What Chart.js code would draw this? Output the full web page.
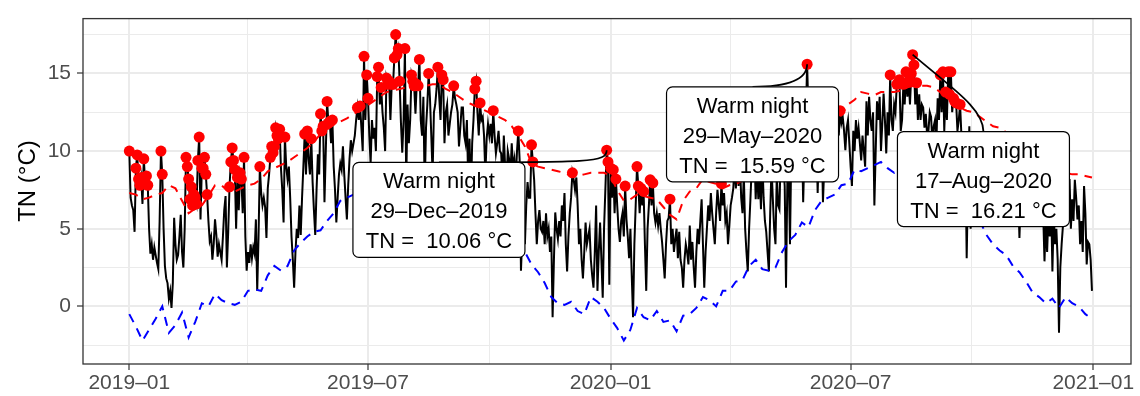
<!DOCTYPE html>
<html>
<head>
<meta charset="utf-8">
<title>TN warm nights</title>
<script src="https://cdn.jsdelivr.net/npm/chart.js@4.4.1/dist/chart.umd.min.js"></script>
<style>
  html, body { margin: 0; padding: 0; background: #ffffff; }
  #wrap { width: 1140px; height: 396px; }
</style>
</head>
<body>
<div id="wrap"><canvas id="tnChart" width="1140" height="396"></canvas></div>
<script>
// daily minimum temperature TN (°C), one value per day starting 2019-01-01
const tn2019 = [
  10.0, 7.0, 6.5, 6.2, 4.8, 8.9, 9.75, 8.2, 7.8, 8.3, 6.6, 9.5, 8.0, 8.4, 7.8, 5.0, 3.4, 4.0, 3.0, 3.8, 3.3, 2.8, 2.4, 5.5, 10.0, 8.5, 5.0, 2.6, 1.8, 1.5, 0.5, // jan
  1.0, -0.1, 1.5, 5.7, 4.0, 3.0, 3.3, 4.5, 5.9, 3.5, 2.5, 5.0, 9.6, 9.0, 8.2, 6.9, 7.7, 6.5, 7.2, 7.0, 6.6, 9.4, 10.9, 5.6, 8.9, 8.9, 9.6, 8.5, // feb
  7.2, 5.5, 4.2, 4.5, 3.0, 4.0, 5.6, 4.6, 3.2, 4.0, 3.5, 3.0, 4.5, 6.2, 7.1, 2.5, 4.8, 7.7, 9.3, 10.2, 9.4, 8.8, 5.0, 8.3, 6.2, 8.6, 8.2, 6.0, 9.6, 4.5, 2.3, // mar
  3.5, 2.8, 4.0, 3.1, 3.8, 3.4, 5.6, 1.0, 4.5, 9.0, 7.3, 6.5, 7.0, 6.4, 4.4, 7.6, 8.5, 9.6, 10.3, 9.9, 10.3, 11.5, 11.0, 10.8, 11.4, 8.9, 7.5, 5.4, 10.9, 9.0, // apr
  8.2, 9.0, 7.0, 4.5, 3.0, 1.2, 3.5, 5.0, 4.4, 6.5, 4.6, 7.0, 9.0, 11.1, 8.5, 11.3, 9.5, 8.5, 10.8, 8.0, 6.2, 4.6, 7.5, 9.8, 8.5, 12.4, 11.3, 11.6, 6.7, 10.0, 13.2, // may
  11.8, 11.9, 10.5, 12.0, 9.0, 7.5, 5.4, 7.0, 8.5, 9.2, 8.8, 10.3, 8.5, 7.0, 5.6, 7.8, 9.5, 10.7, 10.0, 10.5, 11.0, 12.0, 12.8, 12.0, 12.9, 11.5, 10.0, 16.1, 12.0, 14.9, // jun
  13.4, 11.0, 9.2, 12.0, 10.8, 11.5, 10.0, 14.8, 15.4, 13.0, 14.1, 12.5, 11.5, 10.0, 14.7, 14.3, 14.5, 12.0, 14.3, 14.3, 16.0, 17.5, 16.2, 16.6, 14.5, 11.8, 9.9, 12.0, 16.6, 8.0, 13.0, // jul
  10.5, 12.0, 14.9, 14.5, 14.2, 12.4, 14.3, 14.2, 15.9, 12.0, 11.0, 13.5, 7.5, 11.5, 13.0, 15.0, 13.4, 11.0, 8.5, 12.5, 13.0, 14.0, 15.4, 13.5, 12.0, 14.9, 14.6, 10.5, 12.5, 13.0, 11.0, // aug
  11.75, 12.5, 13.0, 14.2, 13.4, 13.0, 12.5, 10.3, 11.5, 12.8, 12.8, 11.0, 10.5, 12.0, 8.0, 10.8, 7.0, 10.5, 12.0, 14.0, 14.5, 12.5, 11.0, 13.1, 12.0, 12.2, 11.0, 8.5, 10.8, 11.75, // sep
  11.0, 11.75, 10.5, 12.6, 11.0, 9.85, 10.5, 11.3, 10.0, 9.85, 8.0, 11.0, 9.0, 8.0, 10.0, 9.5, 8.5, 10.5, 9.0, 9.5, 8.0, 10.0, 11.3, 9.4, 2.3, 4.5, 5.2, 4.0, 6.5, 8.0, 7.0, // oct
  7.0, 10.4, 9.3, 8.15, 6.0, 4.0, 5.5, 6.2, 5.0, 4.8, 5.5, 4.0, 6.0, 4.5, 5.0, 3.5, 4.5, -0.7, 3.0, 6.05, 5.0, 4.35, 5.5, 4.5, 6.5, 5.5, 7.3, 4.0, 2.25, 4.5, // nov
  6.0, 7.0, 8.6, 8.15, 7.5, 8.3, 6.5, 4.0, 5.0, 3.0, 1.8, 3.5, 5.4, 4.0, 4.5, 5.0, 3.0, 2.0, 1.2, 3.5, 6.5, 1.0, 3.5, 5.4, 3.0, 0.55, 5.0, 7.5, 10.06, 9.3, 1.4 // dec
];
const tn2020 = [
  8.9, 7.0, 8.8, 6.0, 8.2, 6.5, 5.0, 4.15, 5.5, 6.0, 4.5, 7.75, 5.6, 4.5, 3.1, 5.0, 2.0, -0.7, 4.0, 6.5, 9.0, 7.75, 6.0, 7.6, 6.5, 7.4, 4.0, 1.0, 5.0, 6.5, 8.15, // jan
  6.5, 7.95, 6.0, 5.4, 6.0, 5.2, 6.0, 5.0, 4.15, 3.0, 1.8, 4.0, 5.5, 5.7, 6.9, 4.0, 5.0, 3.5, 4.35, 5.0, 3.1, 4.8, 3.0, 2.5, 1.2, 3.0, 4.0, 3.5, 2.7, // feb
  5.2, 3.0, 4.15, 2.5, 1.2, 3.5, 5.0, 4.0, 5.5, 6.9, 4.0, 1.2, 3.5, 5.0, 6.5, 5.5, 7.3, 6.0, 5.0, 4.0, 6.0, 7.5, 6.5, 5.5, 7.9, 6.5, 7.3, 5.5, 6.0, 4.0, 5.2, // mar
  6.5, 7.0, 7.6, 9.0, 7.6, 10.0, 7.75, 9.5, 7.0, 6.0, 8.5, 5.0, 3.5, 2.25, 5.0, 6.9, 9.0, 8.0, 10.0, 6.9, 9.0, 6.9, 8.5, 6.25, 9.5, 7.0, 5.5, 4.8, 3.5, 2.25, // apr
  6.0, 9.0, 6.9, 5.0, 4.0, 8.5, 6.5, 6.25, 10.0, 11.0, 9.0, 7.75, 1.2, 8.0, 9.0, 4.0, 10.0, 11.0, 9.5, 12.0, 10.5, 12.5, 11.0, 9.0, 11.5, 6.7, 10.0, 12.0, 15.59, 12.5, 11.0, // may
  13.0, 10.0, 12.0, 9.5, 11.0, 7.3, 10.5, 9.0, 11.5, 6.7, 9.0, 12.0, 10.5, 13.0, 11.5, 10.0, 12.5, 11.0, 9.5, 12.0, 12.0, 11.0, 12.6, 11.8, 12.2, 11.3, 10.06, 11.5, 12.0, 10.5, // jun
  9.0, 7.75, 11.3, 10.0, 12.0, 10.8, 11.5, 10.5, 9.4, 11.0, 10.0, 9.0, 13.2, 11.0, 13.5, 12.0, 11.3, 12.5, 6.5, 10.0, 13.2, 12.0, 13.5, 10.0, 11.75, 13.7, 12.0, 9.85, 12.5, 11.0, 14.9, // jul
  12.0, 11.3, 13.0, 12.5, 14.3, 14.4, 14.6, 11.3, 12.0, 14.3, 13.0, 15.1, 13.5, 14.5, 13.0, 15.0, 16.21, 15.55, 13.0, 14.4, 12.0, 13.65, 12.0, 13.0, 12.8, 11.5, 12.4, 11.0, 11.3, 12.5, 12.2, // aug
  10.5, 11.6, 12.0, 10.5, 13.4, 12.0, 14.9, 12.5, 15.1, 11.3, 13.8, 12.0, 15.1, 13.65, 15.1, 12.5, 13.4, 13.2, 13.1, 11.3, 12.0, 13.0, 11.0, 9.0, 6.5, 10.0, 3.1, 8.0, 11.6, 5.0, // sep
  9.0, 11.0, 8.0, 10.5, 9.5, 7.0, 10.0, 8.5, 11.0, 9.0, 7.5, 10.0, 8.0, 9.5, 6.5, 8.5, 10.5, 9.0, 7.0, 9.5, 8.0, 6.0, 8.5, 10.0, 7.5, 9.0, 6.5, 8.0, 7.0, 9.5, 8.0, // oct
  7.0, 9.0, 6.5, 8.0, 7.5, 4.4, 7.0, 9.5, 8.0, 6.5, 9.0, 7.0, 8.5, 9.0, 7.5, 6.0, 8.0, 9.0, 7.0, 8.5, 6.5, 5.5, 7.0, 6.0, 2.9, 5.5, 3.5, 6.0, 4.5, 7.0, // nov
  2.25, 6.0, 4.0, 5.0, 3.0, -1.7, 2.5, 4.0, 5.2, 7.0, 6.0, 8.4, 7.0, 8.2, 5.0, 6.9, 5.5, 8.15, 7.0, 5.6, 6.5, 4.0, 5.5, 3.5, 7.75, 6.0, 2.7, 4.15, 4.0, 3.0, 1.0 // dec
];

// warm (90th pct) and cold (10th pct) thresholds, one value every 5 days
const thrStep = 5;
const tn90 = [
  7.3, 7.2, 6.9, 7.0, 7.2, 7.3, 7.8, 7.6, 6.8, 6.0,
  6.3, 6.5, 7.1, 7.8, 7.8, 7.4, 7.4, 7.6, 7.8, 7.9,
  8.2, 8.7, 8.9, 9.1, 9.3, 9.6, 9.9, 10.2, 10.6, 11.1,
  11.4, 11.7, 11.9, 12.1, 12.4, 12.6, 12.9, 13.2, 13.5, 13.8,
  13.9, 14.0, 14.1, 14.1, 14.1, 14.2, 14.3, 14.3, 14.0, 13.8,
  13.5, 13.2, 13.0, 12.8, 12.6, 12.4, 12.2, 12.0, 11.6, 11.0,
  10.3, 9.2, 9.0, 8.9, 8.8, 8.7, 8.6, 8.4, 8.4, 8.5,
  8.6, 8.6, 8.6, 8.4, 7.5, 6.8, 6.9, 7.2, 7.1, 7.0,
  6.9, 6.4, 5.9, 5.6, 6.8, 7.4, 7.6, 8.2, 8.0, 7.9,
  7.6, 7.8, 7.9, 8.1, 8.6, 9.0, 9.4, 9.8, 10.2, 10.6,
  11.0, 11.4, 11.7, 11.9, 12.1, 12.3, 12.3, 12.2, 12.3, 13.0,
  13.3, 13.8, 13.7, 13.6, 13.8, 13.8, 13.8, 13.9, 14.1, 14.2,
  14.2, 14.2, 14.1, 13.8, 13.4, 13.0, 12.8, 12.6, 12.5, 12.2,
  11.9, 11.6, 11.5, 11.2, 10.6, 10.1, 9.7, 9.4, 9.1, 8.9,
  8.8, 8.7, 8.6, 8.5, 8.5, 8.4, 8.3
];
const tn10 = [
  -0.5, -1.3, -2.2, -1.5, -0.8, 0.0, -1.7, -1.2, -0.4, -2.0,
  -1.0, 0.2, 0.0, 0.8, 0.4, 0.2, 0.1, 0.3, 1.0, 1.1,
  1.0, 2.0, 2.6, 2.3, 2.6, 3.6, 4.1, 4.5, 4.8, 4.9,
  5.5, 6.0, 6.8, 7.0, 7.2, 7.4, 7.6, 7.9, 8.1, 8.3,
  8.5, 8.7, 8.8, 8.9, 8.9, 9.0, 9.0, 8.9, 8.7, 8.5,
  8.2, 7.8, 7.4, 6.9, 6.4, 5.9, 5.4, 4.8, 4.2, 3.6,
  3.5, 2.7, 2.2, 1.5, 0.6, 0.2, 0.1, 0.3, -0.3, -0.5,
  0.6, 0.3, -0.1, -0.8, -1.4, -2.2, -1.5, -0.1, -0.7, -0.9,
  -0.3, -1.0, -0.9, -1.6, -0.6, -0.5, -0.1, 0.6, 0.4, 0.0,
  1.0, 1.0, 1.6, 1.7, 2.6, 3.0, 2.4, 2.3, 2.5, 3.5,
  4.2, 4.6, 5.4, 5.1, 6.2, 6.8, 7.0, 7.2, 7.8, 7.9,
  8.8, 8.7, 8.9, 9.1, 9.3, 8.9, 8.6, 9.0, 9.2, 9.4,
  9.5, 9.5, 9.3, 9.0, 8.6, 8.0, 7.4, 6.8, 6.2, 5.5,
  4.6, 4.0, 3.6, 3.3, 2.6, 2.2, 1.6, 0.9, 0.6, 0.2,
  0.5, -0.1, 0.6, 0.2, 0.0, -0.5, -0.8
];

// axis ticks (days since 2019-01-01)
const xMajorDays = [0, 181, 365, 547, 731];
const xMinorDays = [90, 273, 456, 639];
const yMajor = [0, 5, 10, 15];
const yMinor = [-2.5, 2.5, 7.5, 12.5, 17.5];

// annotated warm nights and where their labels sit (day, value)
const noteDays = [362, 514, 594];
const noteAtDay = [234.8, 472.6, 647.7];
const noteAtValue = [6.21, 11.08, 8.2];

const startUTC = Date.UTC(2019, 0, 1);
const monthNames = ['Jan', 'Feb', 'Mar', 'Apr', 'May', 'Jun', 'Jul', 'Aug', 'Sep', 'Oct', 'Nov', 'Dec'];
const FONT = "'Liberation Sans', Arial, Helvetica, sans-serif";

const tn = tn2019.concat(tn2020);

function dateOf(d) {
    return new Date(startUTC + d * 86400000);
}

function fmtMonth(d) {
    const dt = dateOf(d);
    return dt.getUTCFullYear() + '–' + String(dt.getUTCMonth() + 1).padStart(2, '0');
}

function fmtDay(d) {
    const dt = dateOf(d);
    return String(dt.getUTCDate()).padStart(2, '0') + '–' + monthNames[dt.getUTCMonth()] + '–' + dt.getUTCFullYear();
}

// threshold at a given day, only used to flag warm nights
function thrAt(arr, d) {
    const k = d / thrStep;
    const i = Math.floor(k);
    if (i >= arr.length - 1) return arr[arr.length - 1];
    const f = k - i;
    return arr[i] * (1 - f) + arr[i + 1] * f;
}

const tnPoints = tn.map((v, i) => ({ x: i, y: v }));
const warmPoints = tnPoints.filter(p => p.y > thrAt(tn90, p.x));
const p90Points = tn90.map((v, i) => ({ x: i * thrStep, y: v }));
const p10Points = tn10.map((v, i) => ({ x: i * thrStep, y: v }));

// curve shape for each connector: control points as fractions of (dx, dy) from the label
const noteBend = [
    [0.9, 0, 1, 0],
    [0.667, 0, 1, 0.333],
    [0, 0.3, 0.44, 0.56]
];

const notesPlugin = {
    id: 'notes',
    afterDatasetsDraw(chart) {
        const { ctx, scales: { x, y } } = chart;
        const boxW = 172, boxH = 95;
        ctx.save();
        ctx.font = '22px ' + FONT;

        noteDays.forEach((d, k) => {
            const px = x.getPixelForValue(d);
            const py = y.getPixelForValue(tn[d]);
            const cx = x.getPixelForValue(noteAtDay[k]);
            const cy = y.getPixelForValue(noteAtValue[k]);
            const top = cy - boxH / 2;
            const left = cx - boxW / 2;

            // connector from label top to the point
            const dx = px - cx, dy = py - top;
            const b = noteBend[k];
            ctx.beginPath();
            ctx.moveTo(cx, top);
            ctx.bezierCurveTo(cx + b[0] * dx, top + b[1] * dy, cx + b[2] * dx, top + b[3] * dy, px, py);
            ctx.strokeStyle = '#000';
            ctx.lineWidth = 1.8;
            ctx.stroke();

            // label box
            const r = 6;
            ctx.beginPath();
            ctx.moveTo(left + r, top);
            ctx.arcTo(left + boxW, top, left + boxW, top + boxH, r);
            ctx.arcTo(left + boxW, top + boxH, left, top + boxH, r);
            ctx.arcTo(left, top + boxH, left, top, r);
            ctx.arcTo(left, top, left + boxW, top, r);
            ctx.closePath();
            ctx.fillStyle = '#fff';
            ctx.fill();
            ctx.lineWidth = 1.2;
            ctx.strokeStyle = '#000';
            ctx.stroke();

            const lines = ['Warm night', fmtDay(d), 'TN =  ' + tn[d].toFixed(2) + ' °C'];
            ctx.fillStyle = '#000';
            ctx.textAlign = 'center';
            ctx.textBaseline = 'alphabetic';
            lines.forEach((t, i) => ctx.fillText(t, cx, top + 26 + i * 30));
        });
        ctx.restore();
    },
    afterDraw(chart) {
        const { ctx, chartArea: a } = chart;
        ctx.save();
        // panel border
        ctx.strokeStyle = '#333333';
        ctx.lineWidth = 1.3;
        ctx.strokeRect(a.left, a.top, a.right - a.left, a.bottom - a.top);
        // y axis title
        ctx.translate(28, 181);
        ctx.rotate(-Math.PI / 2);
        ctx.font = '24px ' + FONT;
        ctx.fillStyle = '#000';
        ctx.textAlign = 'center';
        ctx.textBaseline = 'middle';
        ctx.fillText('TN (°C)', 0, 0);
        ctx.restore();
    }
};

const isMajorX = v => xMajorDays.includes(v);
const isMajorY = v => yMajor.includes(v);

new Chart(document.getElementById('tnChart'), {
    type: 'line',
    data: {
        datasets: [
            {
                label: 'Warm night',
                type: 'scatter',
                data: warmPoints,
                pointRadius: 5.5,
                pointBackgroundColor: '#FF0000',
                pointBorderWidth: 0,
                showLine: false
            },
            {
                label: 'TN90',
                data: p90Points,
                borderColor: '#FF0000',
                borderWidth: 2,
                borderDash: [9, 7],
                pointRadius: 0,
                tension: 0
            },
            {
                label: 'TN10',
                data: p10Points,
                borderColor: '#0000FF',
                borderWidth: 2,
                borderDash: [9, 7],
                pointRadius: 0,
                tension: 0
            },
            {
                label: 'TN',
                data: tnPoints,
                borderColor: '#000000',
                borderWidth: 2,
                pointRadius: 0,
                tension: 0
            }
        ]
    },
    options: {
        responsive: false,
        animation: false,
        devicePixelRatio: 1,
        parsing: false,
        events: [],
        layout: { padding: { top: 13, right: 9, bottom: 0, left: 0 } },
        plugins: {
            legend: { display: false },
            tooltip: { enabled: false }
        },
        scales: {
            x: {
                type: 'linear',
                min: -35.11,
                max: 759.6,
                afterBuildTicks: scale => {
                    scale.ticks = xMajorDays.concat(xMinorDays).sort((a, b) => a - b).map(v => ({ value: v }));
                },
                afterFit: scale => { scale.height = 32; },
                border: { display: false },
                grid: {
                    color: '#EBEBEB',
                    lineWidth: c => (c.tick && isMajorX(c.tick.value) ? 2 : 1),
                    drawTicks: true,
                    tickLength: 6,
                    tickWidth: 1.2,
                    tickColor: c => (c.tick && isMajorX(c.tick.value) ? '#333333' : 'rgba(0,0,0,0)')
                },
                ticks: {
                    autoSkip: false,
                    maxRotation: 0,
                    minRotation: 0,
                    padding: 1,
                    color: '#4D4D4D',
                    font: { family: FONT, size: 21 },
                    callback: v => (isMajorX(v) ? fmtMonth(v) : '')
                }
            },
            y: {
                type: 'linear',
                min: -3.71,
                max: 18.53,
                afterBuildTicks: scale => {
                    scale.ticks = yMinor.concat(yMajor).sort((a, b) => a - b).map(v => ({ value: v }));
                },
                afterFit: scale => { scale.width = 83; },
                border: { display: false },
                grid: {
                    color: '#EBEBEB',
                    lineWidth: c => (c.tick && isMajorY(c.tick.value) ? 2 : 1),
                    drawTicks: true,
                    tickLength: 6,
                    tickWidth: 1.2,
                    tickColor: c => (c.tick && isMajorY(c.tick.value) ? '#333333' : 'rgba(0,0,0,0)')
                },
                ticks: {
                    autoSkip: false,
                    padding: 6,
                    color: '#4D4D4D',
                    font: { family: FONT, size: 21 },
                    callback: v => (isMajorY(v) ? String(v) : '')
                }
            }
        }
    },
    plugins: [notesPlugin]
});
</script>
</body>
</html>
